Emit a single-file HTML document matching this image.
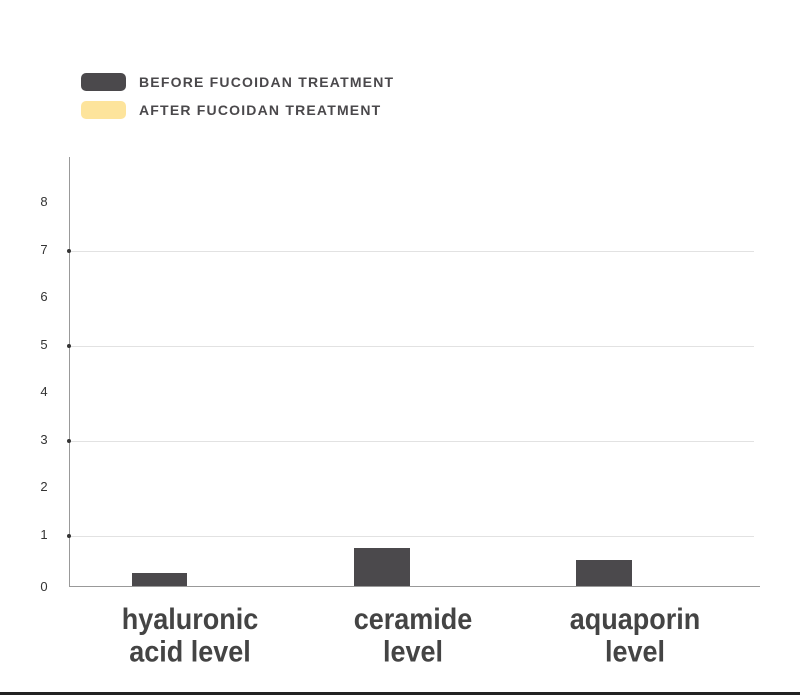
<!DOCTYPE html>
<html><head><meta charset="utf-8"><style>
body{margin:0;width:800px;height:695px;background:#fff;position:relative;overflow:hidden;font-family:"Liberation Sans",sans-serif}
.a{position:absolute}
.lt{font-weight:bold;font-size:14px;color:#4a484b;left:139px;letter-spacing:1.2px}
.yl{font-size:13px;color:#333;left:38px;width:12px;text-align:center}
.g{left:69px;width:685px;height:1px;background:#e2e2e2}
.d{left:67px;width:4px;height:4px;border-radius:2px;background:#333}
.bar{background:#4b494c}
.cat{font-weight:bold;font-size:27px;color:#444;text-align:center;width:220px;line-height:30px;transform:scaleY(1.08);transform-origin:50% 0}
</style></head><body>
<div class="a" style="left:81px;top:73px;width:45px;height:18px;border-radius:5px;background:#4b494c"></div>
<div class="a" style="left:81px;top:101px;width:45px;height:18px;border-radius:5px;background:#fde49c"></div>
<div class="a lt" style="top:74px">BEFORE FUCOIDAN TREATMENT</div>
<div class="a lt" style="top:102px">AFTER FUCOIDAN TREATMENT</div>

<div class="a" style="left:69px;top:157px;width:1px;height:430px;background:#999"></div>
<div class="a" style="left:69px;top:586px;width:691px;height:1px;background:#999"></div>

<div class="a g" style="top:536px"></div>
<div class="a g" style="top:441px"></div>
<div class="a g" style="top:346px"></div>
<div class="a g" style="top:251px"></div>
<div class="a d" style="top:534px"></div>
<div class="a d" style="top:439px"></div>
<div class="a d" style="top:344px"></div>
<div class="a d" style="top:249px"></div>

<div class="a yl" style="top:194px">8</div>
<div class="a yl" style="top:242px">7</div>
<div class="a yl" style="top:289px">6</div>
<div class="a yl" style="top:337px">5</div>
<div class="a yl" style="top:384px">4</div>
<div class="a yl" style="top:432px">3</div>
<div class="a yl" style="top:479px">2</div>
<div class="a yl" style="top:527px">1</div>
<div class="a yl" style="top:579px">0</div>

<div class="a bar" style="left:132px;top:573px;width:55px;height:13px"></div>
<div class="a bar" style="left:354px;top:548px;width:56px;height:38px"></div>
<div class="a bar" style="left:576px;top:560px;width:56px;height:26px"></div>

<div class="a cat" style="left:80px;top:603px">hyaluronic<br>acid level</div>
<div class="a cat" style="left:303px;top:603px">ceramide<br>level</div>
<div class="a cat" style="left:525px;top:603px">aquaporin<br>level</div>

<div class="a" style="left:0;top:692px;width:800px;height:3px;background:#222"></div>
</body></html>
